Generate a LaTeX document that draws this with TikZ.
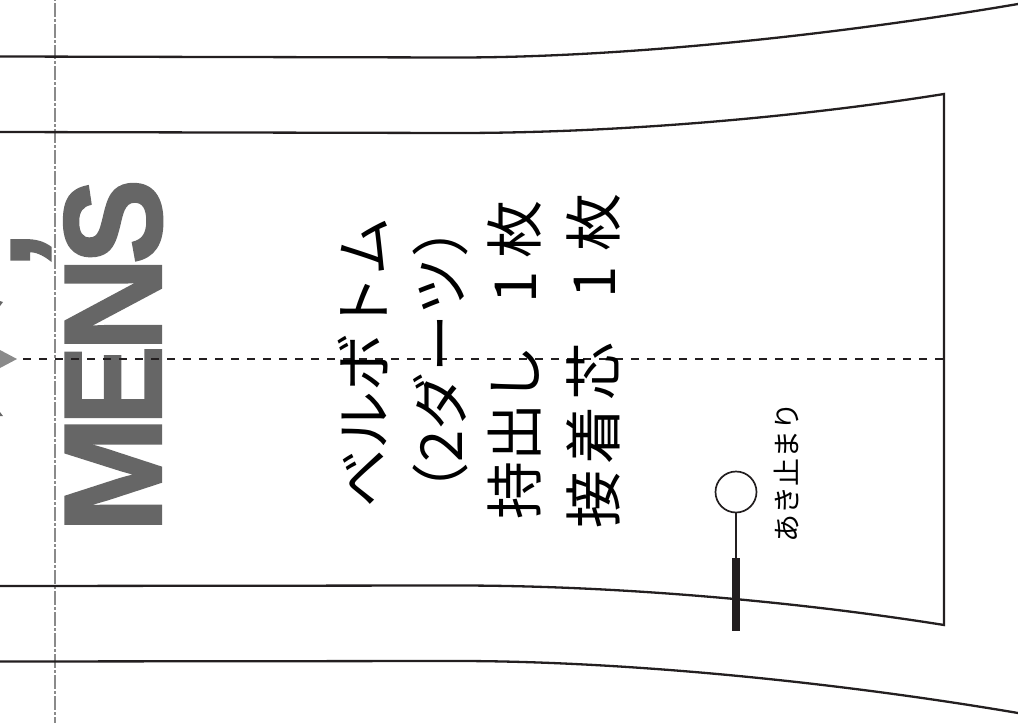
\documentclass[tikz,border=0pt]{standalone}
\usepackage{fontspec}
\setmainfont{Liberation Sans}
\newfontfamily\jpfont{Noto Sans CJK JP}
\newfontfamily\logofont[FakeBold=1.6]{Liberation Sans Bold}
\definecolor{inkblack}{HTML}{231F20}
\definecolor{logogray}{HTML}{666666}
\definecolor{linegray}{HTML}{8A8A8A}
\usetikzlibrary{positioning}

\begin{document}
\begin{tikzpicture}[
    x=1pt,
    y=-1pt,
    outline/.style={draw=inkblack,line width=2.3pt},
    fold/.style={draw=inkblack,line width=2pt,dash pattern=on 8.3pt off 7.7pt},
    center line/.style={draw=linegray,line width=2.6pt,dash pattern=on 13.5pt off 2.5pt on 2.5pt off 2.5pt,dash phase=18pt},
    caption/.style={rotate=90,inner sep=0pt,font=\jpfont\fontsize{58}{58}\selectfont},
    small caption/.style={rotate=90,inner sep=0pt,font=\jpfont\fontsize{28}{28}\selectfont},
    logo/.style={rotate=90,inner sep=0pt,text=logogray,font=\logofont\fontsize{139}{139}\selectfont}
]
\useasboundingbox (0,0) rectangle (1018,723);

% Centre line and logo
\draw[center line] (55,0) -- (55,723);
\node[logo,anchor=base] (mens) at (161,356) {\scalebox{1.01}[1]{M}\kern-9pt \scalebox{.86}[1]{E}\kern-6pt \scalebox{.94}[1]{N}\kern-7pt \scalebox{.92}[1]{S}};
\node[logo,anchor=base] (apos) at (107,250) {’};
\fill[linegray] (0,350) -- (17,359) -- (0,368) -- cycle;
\fill[logogray] (0,301) -- (3,302) -- (0,306) -- cycle;
\fill[logogray] (0,412) -- (3,416) -- (0,416) -- cycle;

% Outer edges
\draw[outline] (0,56.5) -- (457,57.5) .. controls (620,57.5) and (830,36) .. (1018,4);
\draw[outline] (0,661.5) -- (457,661) .. controls (620,661) and (830,681) .. (1018,713);

% Belt piece
\draw[outline,line join=miter] (0,132) -- (457,133) .. controls (620,133) and (800,117) .. (944,94)
  -- (944,625) .. controls (800,602) and (620,585.5) .. (457,585.5) -- (0,586);

% Fold line
\draw[fold] (23,359) -- (944,359);

% Labels
\node[caption] (title) at (363,362) {ベルボトム};
\node[caption] (darts) at (440,360) {（2ダーツ）};
\node[caption] (facing) at (515,360) {持出し\kern42pt 1\kern12pt 枚};
\node[caption] (interlining) at (593,361) {接\kern6pt 着\kern6pt 芯\kern44pt 1\kern14pt 枚};
\node[small caption] (stoplabel) at (786,472) {あき止まり};

% Opening stop
\node[circle,draw=inkblack,line width=1.7pt,minimum size=41pt,inner sep=0pt] (stop) at (736,492) {};
\coordinate (stopmid) at (736,558);
\coordinate (stopend) at (736,630.5);
\draw[inkblack,line width=1.7pt] (stop.south) -- (stopmid);
\draw[inkblack,line width=8pt] (stopmid) -- (stopend);

\end{tikzpicture}
\end{document}
